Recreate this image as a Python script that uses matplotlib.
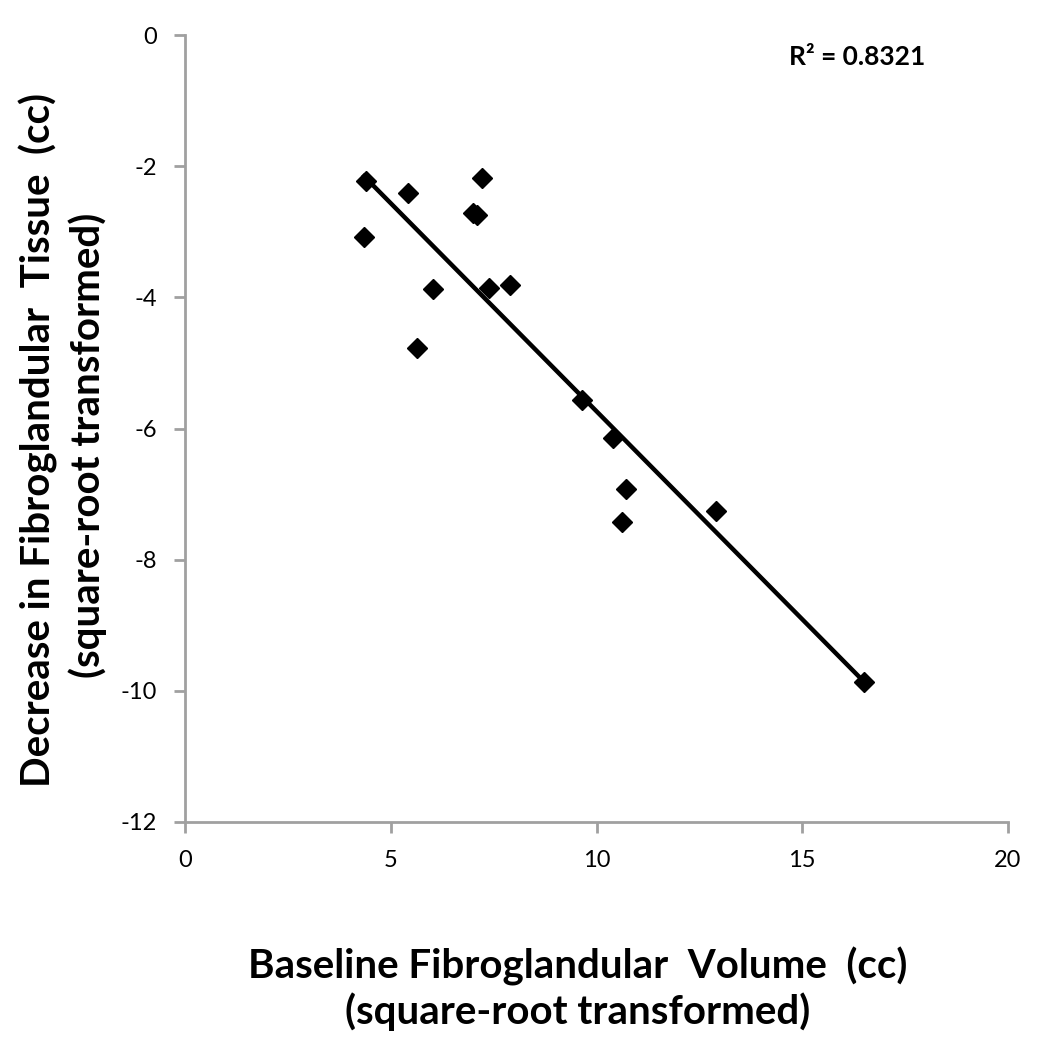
import numpy as np
import matplotlib
matplotlib.use("Agg")
import matplotlib.pyplot as plt

baseline = [4.40, 4.35, 5.42, 5.64, 6.03, 7.00, 7.10, 7.22, 7.39, 7.90, 9.65, 10.40, 10.72, 10.62, 12.90, 16.50]
decrease = [-2.23, -3.08, -2.41, -4.77, -3.87, -2.71, -2.74, -2.18, -3.86, -3.81, -5.56, -6.14, -6.92, -7.42, -7.26, -9.86]
x_ticks = [0, 5, 10, 15, 20]
y_ticks = [0, -2, -4, -6, -8, -10, -12]
r2_text = "R² = 0.8321"
xlabel_lines = ["Baseline Fibroglandular  Volume  (cc)", "(square-root transformed)"]
ylabel_lines = ["Decrease in Fibroglandular  Tissue  (cc)", "(square-root transformed)"]

plt.rcParams['font.family'] = ['Lato', 'DejaVu Sans']
plt.rcParams['axes.unicode_minus'] = False

W, H = 1042, 1050
fig = plt.figure(figsize=(W/100, H/100), dpi=100)
ax = fig.add_axes([185/W, 1-822/H, (1008-185)/W, (822-35)/H])

x = np.array(baseline)
y = np.array(decrease)
m, b = np.polyfit(x, y, 1)
xs = np.array([x.min(), x.max()])
ax.plot(xs, m*xs + b, color='black', lw=3.2, zorder=2)
ax.plot(x, y, linestyle='none', marker='D', markersize=10, color='black', zorder=3)

ax.set_xlim(0, 20)
ax.set_ylim(-12, 0)
ax.set_xticks(x_ticks)
ax.set_yticks(y_ticks)
ax.tick_params(direction='out', length=8, width=2, color='#a0a0a0', labelsize=17, pad=12)
for s in ['top', 'right']:
    ax.spines[s].set_visible(False)
for s in ['left', 'bottom']:
    ax.spines[s].set_color('#a0a0a0')
    ax.spines[s].set_linewidth(2)

fs = 29
fig.text(578/W, 1-966/H, xlabel_lines[0], fontsize=fs, fontweight='bold', ha='center', va='center')
fig.text(578/W, 1-1012/H, xlabel_lines[1], fontsize=fs, fontweight='bold', ha='center', va='center')
fig.text(38/W, 1-440/H, ylabel_lines[0], fontsize=fs, fontweight='bold', ha='center', va='center', rotation=90)
fig.text(88/W, 1-445/H, ylabel_lines[1], fontsize=fs, fontweight='bold', ha='center', va='center', rotation=90)

ax.text(857/W, 1-57/H, r2_text, transform=fig.transFigure, fontsize=19, fontweight='bold',
        ha='center', va='center')

fig.savefig("out.png", dpi=100)
